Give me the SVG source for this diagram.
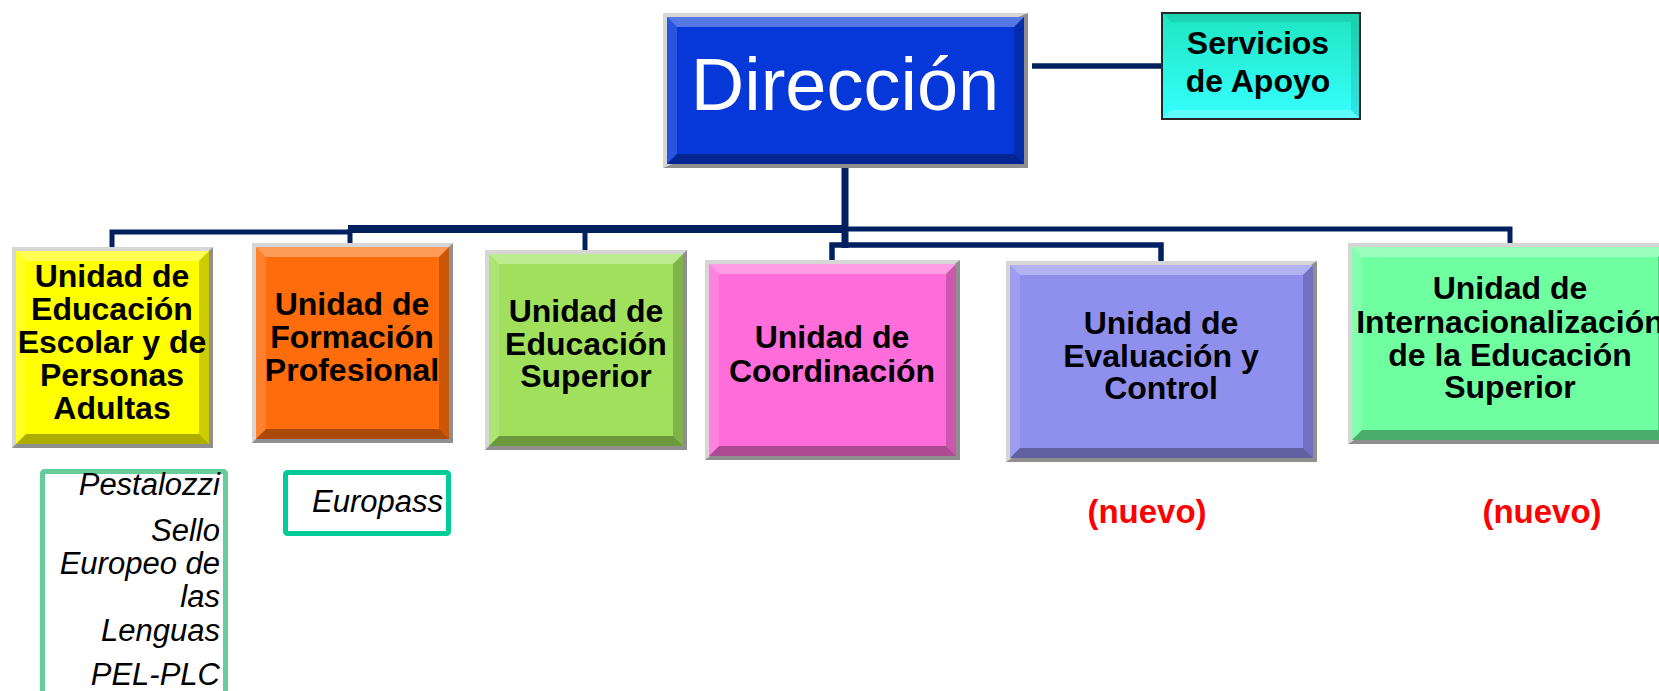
<svg xmlns="http://www.w3.org/2000/svg" width="1659" height="691" viewBox="0 0 1659 691">
<style>
.frL{fill:#d6d6d6}
.frD{fill:#8f8f8f}
.bt{fill:#fff;fill-opacity:.32}
.bl{fill:#fff;fill-opacity:.14}
.br{fill:#000;fill-opacity:.2}
.bb{fill:#000;fill-opacity:.32}
.lbl{font-family:"Liberation Sans",Arial,sans-serif;font-weight:bold;font-size:32px;fill:#000;text-anchor:middle}
.it{font-family:"Liberation Sans",Arial,sans-serif;font-style:italic;font-size:31px;fill:#000;text-anchor:end}
.nuevo{font-family:"Liberation Sans",Arial,sans-serif;font-weight:bold;font-size:33px;fill:#ff0000;text-anchor:middle}
.ln{fill:none;stroke:#002060;stroke-linejoin:miter;stroke-linecap:butt}
</style>
<defs>
<linearGradient id="gServ" x1="0" y1="0" x2="0" y2="1">
<stop offset="0" stop-color="#1ee6c0"/>
<stop offset="1" stop-color="#36ffff"/>
</linearGradient>
</defs>
<rect width="1659" height="691" fill="#fff"/>

<g id="connectors">
<path class="ln" d="M1032,66 H1161" stroke-width="5.5"/>
<path class="ln" d="M845,168 V248" stroke-width="7"/>
<path class="ln" d="M348,229 H848" stroke-width="8"/>
<path class="ln" d="M112,247 V232 H350" stroke-width="5"/>
<path class="ln" d="M845,229 H1510 V243" stroke-width="5"/>
<path class="ln" d="M350,229 V243" stroke-width="5"/>
<path class="ln" d="M585,229 V250" stroke-width="5"/>
<path class="ln" d="M832,260 V245 H1161 V261" stroke-width="5.5"/>
</g>

<g id="n-direccion">
<rect class="frD" x="663" y="13" width="365" height="155"/>
<polygon class="frL" points="663,13 1028,13 663,168"/>
<rect x="667" y="17" width="357" height="147" fill="#0638d9"/>
<polygon class="bt" points="667,17 1024,17 1014,27 677,27"/>
<polygon class="bl" points="667,17 677,27 677,154 667,164"/>
<polygon class="br" points="1024,17 1024,164 1014,154 1014,27"/>
<polygon class="bb" points="667,164 1024,164 1014,154 677,154"/>
<text x="845" y="110" text-anchor="middle" font-family="'Liberation Sans',Arial,sans-serif" font-size="74" fill="#fff">Dirección</text>
</g>

<g id="n-servicios">
<rect x="1161" y="12" width="200" height="108" fill="#262626"/>
<rect x="1163" y="14" width="196" height="104" fill="url(#gServ)"/>
<polygon points="1163,14 1359,14 1351,22 1171,22" fill="#000" fill-opacity=".08"/>
<polygon points="1163,118 1359,118 1351,110 1171,110" fill="#fff" fill-opacity=".2"/>
<polygon points="1359,14 1359,118 1351,110 1351,22" fill="#000" fill-opacity=".1"/>
<text class="lbl" x="1258" y="54">Servicios</text>
<text class="lbl" x="1258" y="92">de Apoyo</text>
</g>

<g id="n-escolar">
<rect class="frD" x="12" y="247" width="201" height="201"/>
<polygon class="frL" points="12,247 213,247 12,448"/>
<rect x="16" y="251" width="193" height="193" fill="#ffff00"/>
<polygon class="bt" points="16,251 209,251 199,261 26,261"/>
<polygon class="bl" points="16,251 26,261 26,434 16,444"/>
<polygon class="br" points="209,251 209,444 199,434 199,261"/>
<polygon class="bb" points="16,444 209,444 199,434 26,434"/>
<text class="lbl" x="112" y="287">Unidad de</text>
<text class="lbl" x="112" y="320">Educación</text>
<text class="lbl" x="112" y="353">Escolar y de</text>
<text class="lbl" x="112" y="386">Personas</text>
<text class="lbl" x="112" y="419">Adultas</text>
</g>

<g id="n-fp">
<rect class="frD" x="252" y="243" width="201" height="200"/>
<polygon class="frL" points="252,243 453,243 252,443"/>
<rect x="256" y="247" width="193" height="192" fill="#ff6c0b"/>
<polygon class="bt" points="256,247 449,247 439,257 266,257"/>
<polygon class="bl" points="256,247 266,257 266,429 256,439"/>
<polygon class="br" points="449,247 449,439 439,429 439,257"/>
<polygon class="bb" points="256,439 449,439 439,429 266,429"/>
<text class="lbl" x="352" y="315">Unidad de</text>
<text class="lbl" x="352" y="348">Formación</text>
<text class="lbl" x="352" y="381">Profesional</text>
</g>

<g id="n-superior">
<rect class="frD" x="485" y="250" width="202" height="200"/>
<polygon class="frL" points="485,250 687,250 485,450"/>
<rect x="489" y="254" width="194" height="192" fill="#a0e05c"/>
<polygon class="bt" points="489,254 683,254 673,264 499,264"/>
<polygon class="bl" points="489,254 499,264 499,436 489,446"/>
<polygon class="br" points="683,254 683,446 673,436 673,264"/>
<polygon class="bb" points="489,446 683,446 673,436 499,436"/>
<text class="lbl" x="586" y="322">Unidad de</text>
<text class="lbl" x="586" y="355">Educación</text>
<text class="lbl" x="586" y="387">Superior</text>
</g>

<g id="n-coordinacion">
<rect class="frD" x="705" y="260" width="255" height="200"/>
<polygon class="frL" points="705,260 960,260 705,460"/>
<rect x="709" y="264" width="247" height="192" fill="#ff6ddb"/>
<polygon class="bt" points="709,264 956,264 946,274 719,274"/>
<polygon class="bl" points="709,264 719,274 719,446 709,456"/>
<polygon class="br" points="956,264 956,456 946,446 946,274"/>
<polygon class="bb" points="709,456 956,456 946,446 719,446"/>
<text class="lbl" x="832" y="348">Unidad de</text>
<text class="lbl" x="832" y="382">Coordinación</text>
</g>

<g id="n-evaluacion">
<rect class="frD" x="1006" y="261" width="311" height="201"/>
<polygon class="frL" points="1006,261 1317,261 1006,462"/>
<rect x="1010" y="265" width="303" height="193" fill="#8f8fee"/>
<polygon class="bt" points="1010,265 1313,265 1303,275 1020,275"/>
<polygon class="bl" points="1010,265 1020,275 1020,448 1010,458"/>
<polygon class="br" points="1313,265 1313,458 1303,448 1303,275"/>
<polygon class="bb" points="1010,458 1313,458 1303,448 1020,448"/>
<text class="lbl" x="1161" y="334">Unidad de</text>
<text class="lbl" x="1161" y="367">Evaluación y</text>
<text class="lbl" x="1161" y="399">Control</text>
</g>

<g id="n-internacionalizacion">
<rect class="frD" x="1348" y="243" width="324" height="201"/>
<polygon class="frL" points="1348,243 1672,243 1348,444"/>
<rect x="1352" y="247" width="316" height="193" fill="#6fffa0"/>
<polygon class="bt" points="1352,247 1668,247 1658,257 1362,257"/>
<polygon class="bl" points="1352,247 1362,257 1362,430 1352,440"/>
<polygon class="br" points="1668,247 1668,440 1658,430 1658,257"/>
<polygon class="bb" points="1352,440 1668,440 1658,430 1362,430"/>
<text class="lbl" x="1510" y="299">Unidad de</text>
<text class="lbl" x="1510" y="333">Internacionalización</text>
<text class="lbl" x="1510" y="366">de la Educación</text>
<text class="lbl" x="1510" y="398">Superior</text>
</g>

<g id="n-programas-escolar">
<rect x="42.5" y="471.5" width="183" height="240" rx="2" fill="#fff" stroke="#66cc99" stroke-width="5"/>
<text class="it" x="220" y="495">Pestalozzi</text>
<text class="it" x="220" y="541">Sello</text>
<text class="it" x="220" y="574">Europeo de</text>
<text class="it" x="220" y="607">las</text>
<text class="it" x="220" y="641">Lenguas</text>
<text class="it" x="220" y="685">PEL-PLC</text>
</g>

<g id="n-europass">
<rect x="285.5" y="472.5" width="163" height="61" rx="2" fill="#fff" stroke="#00cc99" stroke-width="5"/>
<text class="it" x="443" y="512">Europass</text>
</g>

<g id="n-nuevo-1">
<text class="nuevo" x="1147" y="523">(nuevo)</text>
</g>
<g id="n-nuevo-2">
<text class="nuevo" x="1542" y="523">(nuevo)</text>
</g>
</svg>
